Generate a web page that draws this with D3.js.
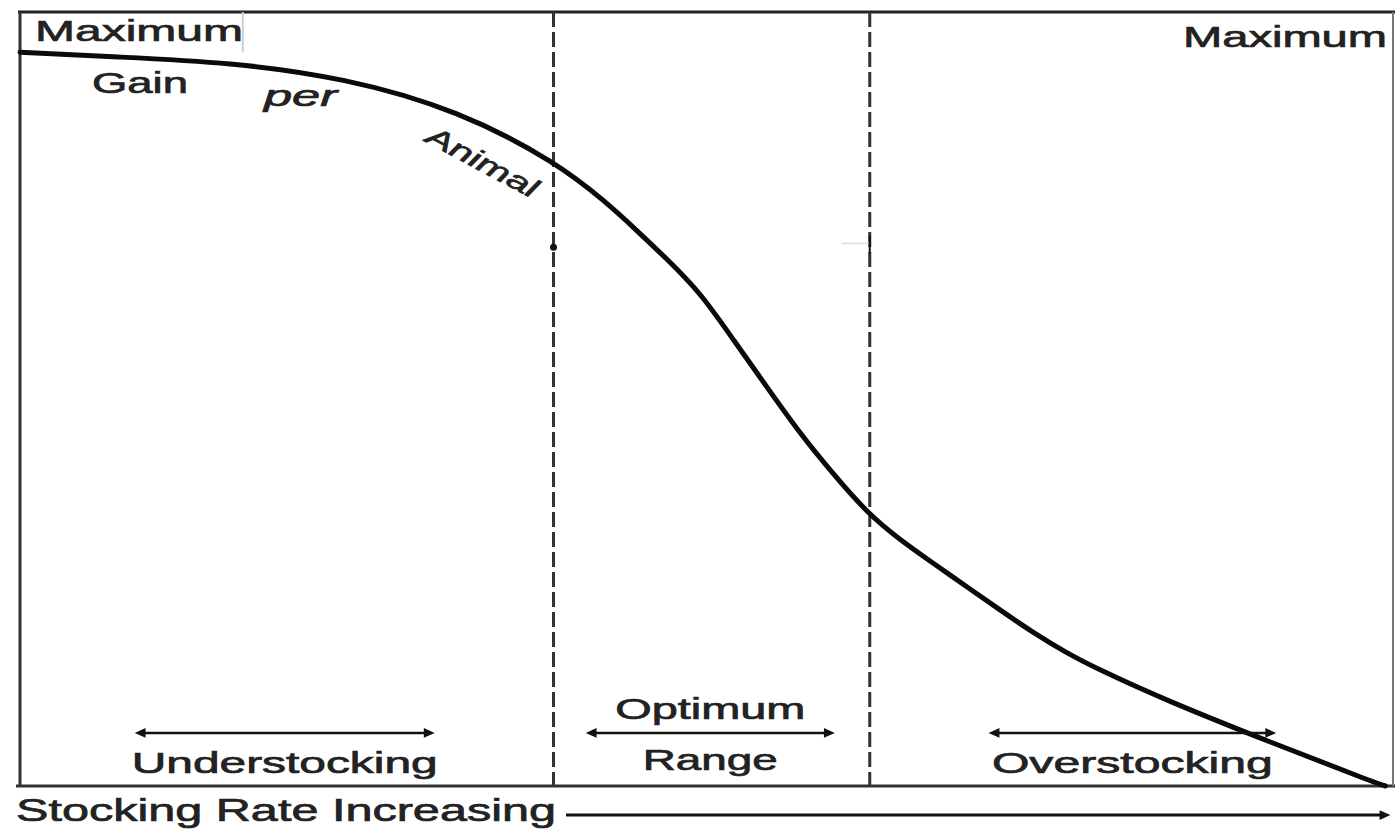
<!DOCTYPE html>
<html>
<head>
<meta charset="utf-8">
<script src="https://cdn.jsdelivr.net/npm/d3@7"></script>
<style>
  html, body { margin: 0; padding: 0; background: #fff; }
  text { font-family: "Liberation Sans", Arial, sans-serif; fill: #222; stroke: #222; stroke-width: 0.7px; }
</style>
</head>
<body>
<div id="chart"></div>
<script>
// gain per animal vs stocking rate (both relative, 0-100)
var stockingRate  = [0, 6.9, 15.3, 23.6, 31.9, 39.1, 42.7, 44.6, 47.1, 49.5, 51.9, 54.3, 56.7, 59.1, 61.6,
                     64.0, 66.4, 68.9, 71.3, 73.7, 76.1, 78.5, 83.3, 91.0, 98.6, 99.3];
var gainPerAnimal = [94.8, 94.2, 93.5, 91.5, 87.3, 80.5, 75.3, 72.2, 68.0, 63.7, 57.6, 51.6, 45.6, 40.4, 35.3,
                     31.8, 28.8, 25.7, 22.7, 19.8, 17.2, 15.0, 11.1, 5.6, 0.4, 0];

// dashed limits of the optimum range
var rangeLimits = [38.8, 61.8];

// ranges shown with arrows
var rangeNames = [["Understocking"], ["Optimum", "Range"], ["Overstocking"]];
var rangeFrom  = [8.3, 41.1, 70.4];
var rangeTo    = [30.2, 59.3, 91.4];
var arrowLevel = 6.85;

var width = 1400, height = 835;
var margin = {top: 12, right: 5, bottom: 49, left: 20};

var x = d3.scaleLinear().domain([0, 100]).range([margin.left, width - margin.right]);
var y = d3.scaleLinear().domain([0, 100]).range([height - margin.bottom, margin.top]);

var svg = d3.select("#chart").append("svg")
    .attr("width", width)
    .attr("height", height);

var defs = svg.append("defs");
function addMarker(id, path) {
    defs.append("marker")
        .attr("id", id)
        .attr("viewBox", "-6 -6 12 12")
        .attr("markerUnits", "userSpaceOnUse")
        .attr("markerWidth", 13)
        .attr("markerHeight", 13)
        .attr("refX", 0)
        .attr("refY", 0)
        .attr("orient", "auto")
        .append("path")
        .attr("d", path)
        .attr("fill", "#111");
}
addMarker("head", "M-5,-4.5L5,0L-5,4.5Z");
addMarker("tail", "M5,-4.5L-5,0L5,4.5Z");

// frame
var x0 = x(0), x1 = x(100), y0 = y(0), y1 = y(100);
svg.append("line").attr("x1", x0 - 2).attr("x2", x1).attr("y1", y1).attr("y2", y1)
    .attr("stroke", "#222").attr("stroke-width", 3);
svg.append("line").attr("x1", x0).attr("x2", x0).attr("y1", y1).attr("y2", y0)
    .attr("stroke", "#333").attr("stroke-width", 3);
svg.append("line").attr("x1", x0 - 4).attr("x2", x1).attr("y1", y0).attr("y2", y0)
    .attr("stroke", "#333").attr("stroke-width", 3);
svg.append("line").attr("x1", x1 - 2).attr("x2", x1 - 2).attr("y1", y1).attr("y2", y0)
    .attr("stroke", "#777").attr("stroke-width", 2);

// small box edge around the left "Maximum"
svg.append("line").attr("x1", x(16.2)).attr("x2", x(16.2)).attr("y1", y1).attr("y2", y(gainPerAnimal[0]))
    .attr("stroke", "#ccc").attr("stroke-width", 2);

// dashed limits
svg.selectAll(".limit").data(rangeLimits).enter().append("line")
    .attr("class", "limit")
    .attr("x1", function(d) { return x(d); })
    .attr("x2", function(d) { return x(d); })
    .attr("y1", y1)
    .attr("y2", y0)
    .attr("stroke", "#333")
    .attr("stroke-width", 3)
    .attr("stroke-dasharray", "15,5");

// little ticks on the limits
svg.append("circle").attr("cx", x(rangeLimits[0])).attr("cy", y(69.6)).attr("r", 3.5).attr("fill", "#111");
svg.append("line").attr("x1", x(rangeLimits[1]) - 28).attr("x2", x(rangeLimits[1]))
    .attr("y1", y(70.1)).attr("y2", y(70.1)).attr("stroke", "#ddd").attr("stroke-width", 1.5);
svg.append("line").attr("x1", x(rangeLimits[1])).attr("x2", x(rangeLimits[1]))
    .attr("y1", y(70.1) - 8).attr("y2", y(70.1) + 10).attr("stroke", "#111").attr("stroke-width", 2);

// curve
var curveData = stockingRate.map(function(d, i) { return {x: d, y: gainPerAnimal[i]}; });
var line = d3.line()
    .x(function(d) { return x(d.x); })
    .y(function(d) { return y(d.y); })
    .curve(d3.curveBasis);

svg.append("path")
    .datum(curveData)
    .attr("fill", "none")
    .attr("stroke", "#0a0a0a")
    .attr("stroke-width", 5)
    .attr("stroke-linecap", "round")
    .attr("d", line);

// stretched text helper
function label(txt, px, py, len, size, opts) {
    opts = opts || {};
    var t = svg.append("text")
        .attr("x", px)
        .attr("y", py)
        .attr("font-size", size)
        .attr("textLength", len)
        .attr("lengthAdjust", "spacingAndGlyphs")
        .attr("text-anchor", opts.anchor || "start")
        .text(txt);
    if (opts.italic) t.attr("font-style", "italic");
    if (opts.rotate) t.attr("transform", "rotate(" + opts.rotate + "," + px + "," + py + ")");
    return t;
}

label("Maximum", 35, 41, 208, 30);
label("Maximum", 1183, 47, 204, 30);
label("Gain", 92, 93, 96, 30);
label("per", 264, 106, 73, 29, {italic: true});
label("Animal", 478, 170, 122, 27, {italic: true, anchor: "middle", rotate: 28});

// range arrows and names
rangeNames.forEach(function(names, i) {
    var a = x(rangeFrom[i]), b = x(rangeTo[i]), ay = y(arrowLevel);
    svg.append("line")
        .attr("x1", a + 6).attr("x2", b - 6)
        .attr("y1", ay).attr("y2", ay)
        .attr("stroke", "#111")
        .attr("stroke-width", 2.5)
        .attr("marker-start", "url(#tail)")
        .attr("marker-end", "url(#head)");
    var cx = (a + b) / 2;
    if (names.length === 1) {
        label(names[0], cx, ay + 40, i === 0 ? 306 : 281, 30, {anchor: "middle"});
    } else {
        label(names[0], cx, ay - 14, 190, 30, {anchor: "middle"});
        label(names[1], cx, ay + 37, 135, 30, {anchor: "middle"});
    }
});

// x axis title with arrow
label("Stocking Rate Increasing", 16, 821, 540, 32);
svg.append("line")
    .attr("x1", 566).attr("x2", x1 - 10)
    .attr("y1", 815).attr("y2", 815)
    .attr("stroke", "#111")
    .attr("stroke-width", 3)
    .attr("marker-end", "url(#head)");
</script>
</body>
</html>
